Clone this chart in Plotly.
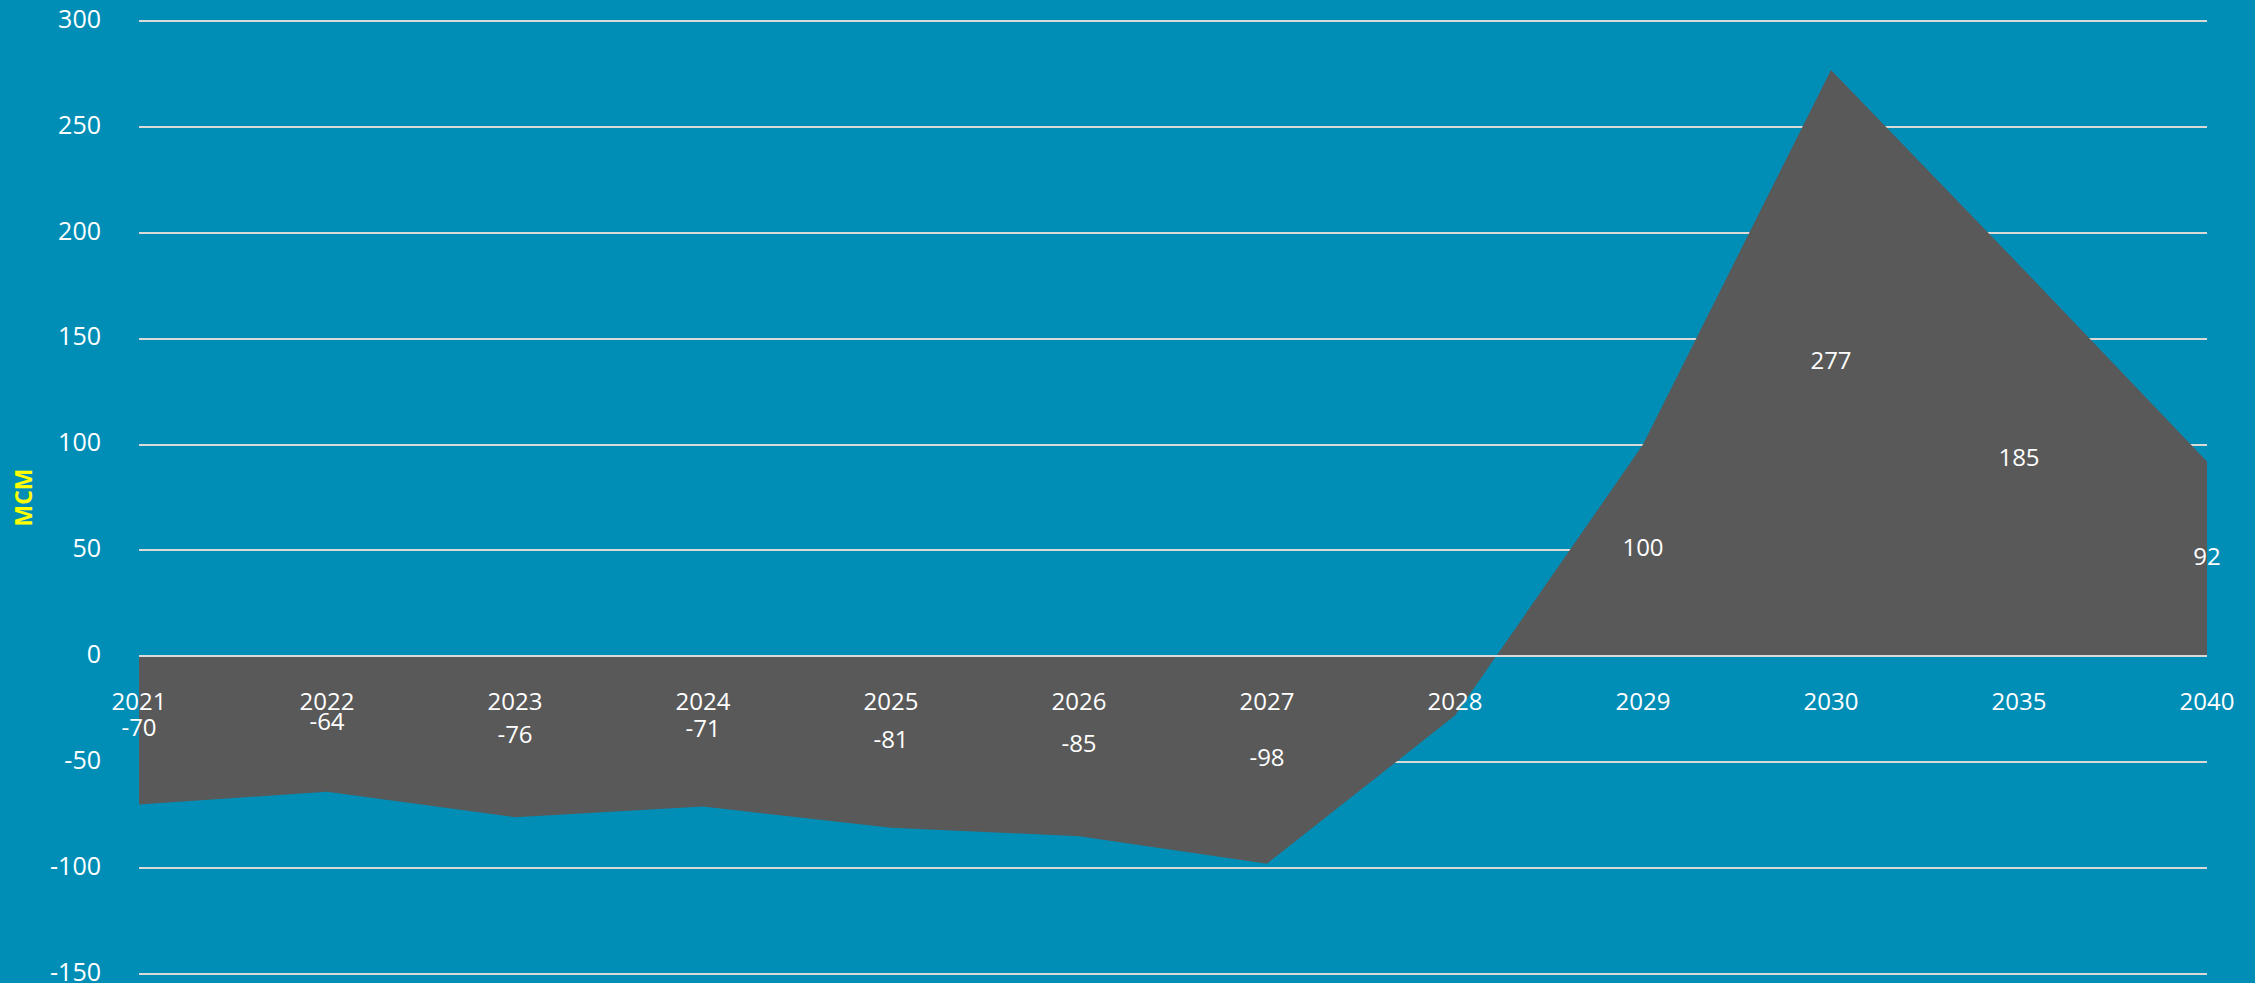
import plotly.graph_objects as go

years = ["2021", "2022", "2023", "2024", "2025", "2026", "2027", "2028", "2029", "2030", "2035", "2040"]
values = [-70, -64, -76, -71, -81, -85, -98, -28, 100, 277, 185, 92]
data_labels = ["-70", "-64", "-76", "-71", "-81", "-85", "-98", "", "100", "277", "185", "92"]
y_ticks = [-150, -100, -50, 0, 50, 100, 150, 200, 250, 300]
y_ticktext = ["-150", "-100", "-50", "0", "50", "100", "150", "200", "250", "300"]

BG = "#008EB7"
GRID = "#d9d9d9"
FONT = "Open Sans"

W, H = 2255, 983
# pixel positions of y=300 and y=-150 in the reference
Y_TOP_PX, Y_BOT_PX = 21.7, 974.0
ymin, ymax = -152, 302
ppu = (Y_BOT_PX - Y_TOP_PX) / (300 - (-150))
MT = Y_TOP_PX - (ymax - 300) * ppu
MB = H - (Y_BOT_PX + (-150 - ymin) * ppu)
ML, MR = 139, 48

fig = go.Figure()
fig.add_trace(go.Scatter(
    x=years, y=values, mode="lines", fill="tozeroy",
    line=dict(width=0, color="#595959"), fillcolor="#595959",
    hoverinfo="skip", showlegend=False,
))
fig.add_trace(go.Scatter(
    x=years, y=[v / 2 for v in values], mode="text", text=data_labels,
    textposition="middle center", cliponaxis=False,
    textfont=dict(family=FONT, size=24, color="white"),
    hoverinfo="skip", showlegend=False,
))

fig.update_layout(
    width=W, height=H,
    margin=dict(l=ML, r=MR, t=MT, b=MB, pad=0),
    paper_bgcolor=BG, plot_bgcolor=BG,
    font=dict(family=FONT, size=24, color="white"),
    xaxis=dict(
        type="category", categoryorder="array", categoryarray=years,
        range=[0, len(years) - 1],
        anchor="free", position=(0 - ymin) / (ymax - ymin),
        showgrid=False, zeroline=False,
        showline=True, linecolor=GRID, linewidth=1.5,
        ticks="outside", ticklen=24, tickcolor="rgba(0,0,0,0)",
        tickfont=dict(family=FONT, size=24, color="white"),
        automargin=False, layer="above traces",
    ),
    yaxis=dict(
        range=[ymin, ymax], tickvals=y_ticks, ticktext=y_ticktext,
        showgrid=True, gridcolor=GRID, gridwidth=1.5,
        zeroline=False, showline=False,
        ticks="outside", ticklen=32, tickcolor="rgba(0,0,0,0)",
        tickfont=dict(family=FONT, size=25, color="white"),
        ticklabeloverflow="allow", ticklabelshift=-2,
        automargin=False, domain=[0, 1],
    ),
    annotations=[dict(
        text="<b>MCM</b>", textangle=-90, showarrow=False,
        xref="paper", yref="paper",
        x=(22 - ML) / (W - ML - MR), y=0.5, xanchor="center", yanchor="middle",
        font=dict(family=FONT, size=23, color="#FFFF00"),
    )],
)

fig.write_html(
    "out.html",
    config={"displayModeBar": False},
    post_script="document.body.style.margin='0';document.body.style.overflow='hidden';",
)
